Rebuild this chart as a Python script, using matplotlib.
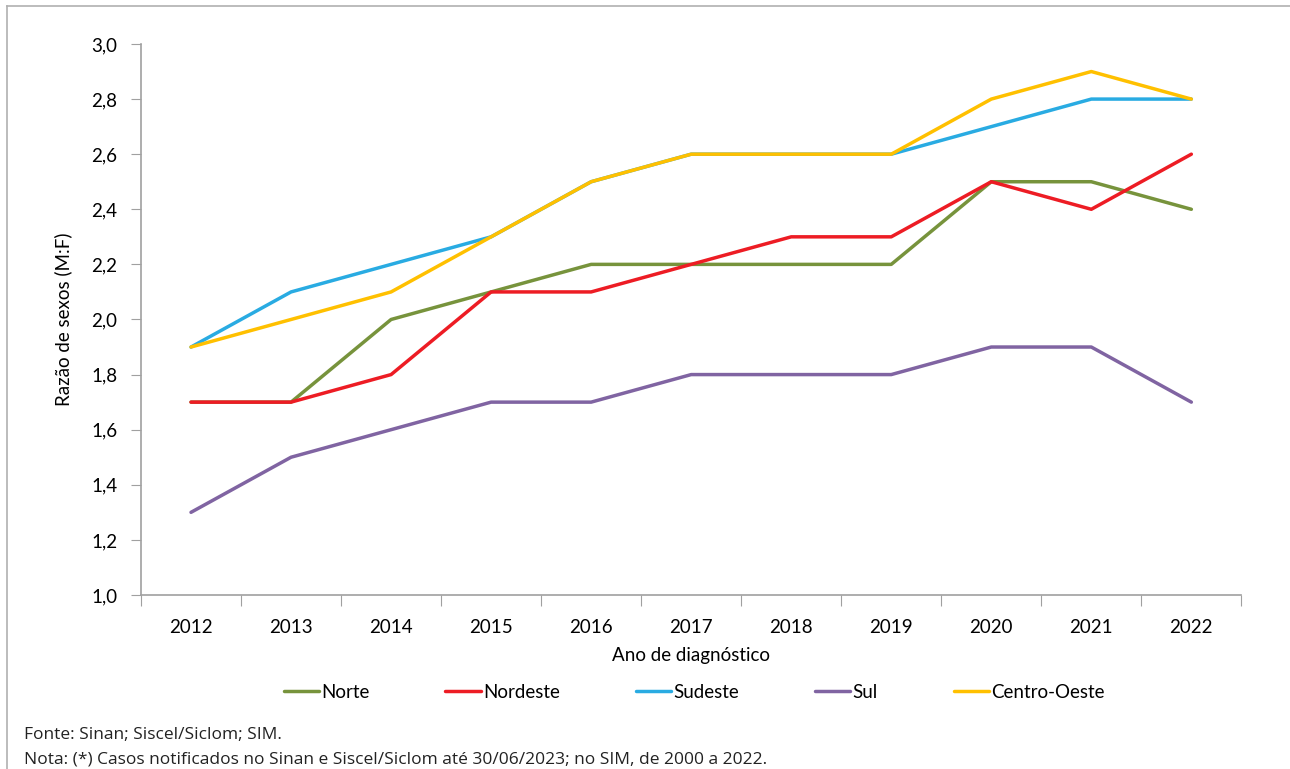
import matplotlib.pyplot as plt
from matplotlib.lines import Line2D

# Razao de sexos (M:F) por regiao e ano de diagnostico
anos = ['2012', '2013', '2014', '2015', '2016', '2017', '2018', '2019', '2020', '2021', '2022']
norte = [1.7, 1.7, 2.0, 2.1, 2.2, 2.2, 2.2, 2.2, 2.5, 2.5, 2.4]
nordeste = [1.7, 1.7, 1.8, 2.1, 2.1, 2.2, 2.3, 2.3, 2.5, 2.4, 2.6]
sudeste = [1.9, 2.1, 2.2, 2.3, 2.5, 2.6, 2.6, 2.6, 2.7, 2.8, 2.8]
sul = [1.3, 1.5, 1.6, 1.7, 1.7, 1.8, 1.8, 1.8, 1.9, 1.9, 1.7]
centro_oeste = [1.9, 2.0, 2.1, 2.3, 2.5, 2.6, 2.6, 2.6, 2.8, 2.9, 2.8]

regioes = ['Norte', 'Nordeste', 'Sudeste', 'Sul', 'Centro-Oeste']
cores = ['#77933C', '#ED1C24', '#29ABE2', '#8064A2', '#FFC000']
series = [norte, nordeste, sudeste, sul, centro_oeste]

plt.rcParams['font.family'] = ['Lato', 'DejaVu Sans']

fig = plt.figure(figsize=(12.9, 7.69), dpi=100)
ax = fig.add_axes([0.1093, 0.2263, 0.853, 0.7165])

x = range(len(anos))
for nome, cor, vals in zip(regioes, cores, series):
    ax.plot(x, vals, color=cor, lw=2.5, label=nome, solid_capstyle='round')

ax.set_xlim(-0.5, len(anos) - 0.5)
ax.set_ylim(1.0, 3.0)
ax.set_yticks([1.0 + 0.2 * i for i in range(11)])
ax.yaxis.set_major_formatter(plt.FuncFormatter(lambda v, p: ('%.1f' % v).replace('.', ',')))

# rotulos centrados nas categorias, marcas nas divisas (estilo Excel)
ax.set_xticks([i - 0.5 for i in range(len(anos) + 1)])
ax.set_xticklabels([])
ax.set_xticks(list(x), minor=True)
ax.set_xticklabels(anos, minor=True)
ax.tick_params(axis='x', which='minor', length=0, pad=17, labelsize=13.5)
ax.tick_params(axis='x', which='major', length=8, color='#A0A0A0', direction='out')
ax.tick_params(axis='y', length=7, color='#A0A0A0', pad=10, labelsize=13.5)

for s in ['top', 'right']:
    ax.spines[s].set_visible(False)
for s in ['left', 'bottom']:
    ax.spines[s].set_color('#A0A0A0')
    ax.spines[s].set_linewidth(1.2)

ax.set_xlabel('Ano de diagnóstico', fontsize=13.5, labelpad=8)
ax.set_ylabel('Razão de sexos (M:F)', fontsize=13.5, labelpad=14)

fig.legend(loc='center', bbox_to_anchor=(694 / 1290, 1 - 692 / 769), ncol=5, frameon=False,
           fontsize=13.5, handlelength=1.9, handletextpad=0.1, columnspacing=4.05)

fig.text(24 / 1290, 1 - 735 / 769, 'Fonte: Sinan; Siscel/Siclom; SIM.', fontsize=12.5,
         family=['Open Sans', 'DejaVu Sans'], va='center', color='#222222')
fig.text(24 / 1290, 1 - 759 / 769,
         'Nota: (*) Casos notificados no Sinan e Siscel/Siclom até 30/06/2023; no SIM, de 2000 a 2022.',
         fontsize=12.5, family=['Open Sans', 'DejaVu Sans'], va='center', color='#222222')

# moldura da figura (esquerda e topo)
fig.add_artist(Line2D([7 / 1290, 7 / 1290], [0, 1 - 6 / 769], color='#B0B0B0', lw=1.2))
fig.add_artist(Line2D([7 / 1290, 1], [1 - 6 / 769, 1 - 6 / 769], color='#B0B0B0', lw=1.2))

plt.savefig('out.png', dpi=100)
